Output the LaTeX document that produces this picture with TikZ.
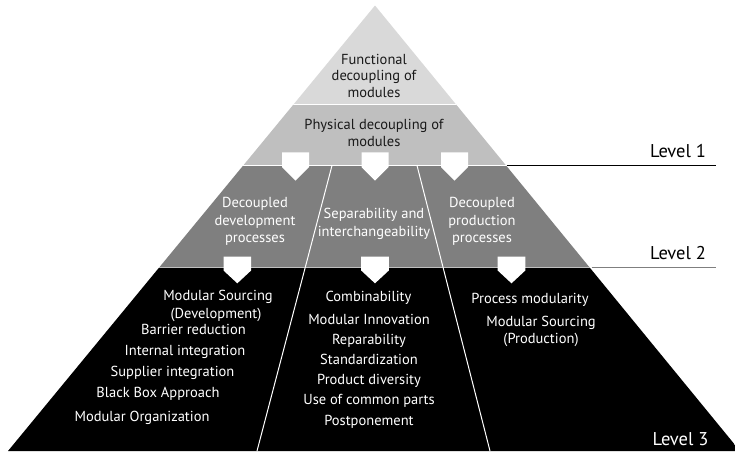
\documentclass[tikz,border=0pt]{standalone}
\usepackage{fontspec}
\setmainfont{PT Sans}
\definecolor{bandA}{HTML}{D9D9D9}
\definecolor{bandB}{HTML}{BFBFBF}
\definecolor{bandC}{HTML}{7F7F7F}
\definecolor{darktxt}{HTML}{1A1A1A}
\begin{document}
\begin{tikzpicture}[x=1pt,y=-1pt,
  txt/.style={anchor=base,inner sep=0pt,font=\fontsize{14.5}{16}\selectfont},
  dtxt/.style={txt,text=darktxt},
  wtxt/.style={txt,text=white},
  lvl/.style={anchor=base,inner sep=0pt,font=\fontsize{18.5}{20}\selectfont,text=black},
  pointer/.style={fill=white,draw=none},
  sep/.style={draw=white,line width=1pt},
  divider/.style={draw=white,line width=1pt}]
\useasboundingbox (0,0) rectangle (735,451);
\coordinate (apex) at (375,5.5);
\coordinate (bl) at (8,451);
\coordinate (br) at (740,451);
\begin{scope}
  \clip (apex) -- (br) -- (bl) -- cycle;
  \fill[bandA] (0,0) rectangle (740,104.5);
  \fill[bandB] (0,104.5) rectangle (740,165.5);
  \fill[bandC] (0,165.5) rectangle (740,267.5);
  \fill[black] (0,267.5) rectangle (740,452);
  \draw[sep] (0,104.5) -- (740,104.5);
  \draw[sep] (0,165.5) -- (740,165.5);
  \draw[sep,draw=bandB] (0,267.5) -- (740,267.5);
  \coordinate (d1a) at (332,165.5);
  \coordinate (d1b) at (257,451);
  \coordinate (d2a) at (417,165.5);
  \coordinate (d2b) at (490,451);
  \draw[divider] (d1a) -- (d1b);
  \draw[divider] (d2a) -- (d2b);
\end{scope}
% level lines
\coordinate (l1a) at (507,165.3);
\coordinate (l1b) at (716,165.3);
\coordinate (l2a) at (591.5,267.7);
\coordinate (l2b) at (716,267.7);
\draw[black,line width=1pt] (l1a) -- (l1b);
\draw[bandC,line width=1pt] (l2a) -- (l2b);
% pointers level 1
\foreach \cx/\nm in {295.5/pa,375/pb,454.5/pc}{
  \fill[pointer] (\cx-13.5,152.3) -- (\cx+13.5,152.3) -- (\cx+13.5,167) -- (\cx,180.7) -- (\cx-13.5,167) -- cycle;
}
% pointers level 2
\foreach \cx/\nm in {237.3/qa,375/qb,511.5/qc}{
  \fill[pointer] (\cx-13.8,256.7) -- (\cx+13.8,256.7) -- (\cx+13.8,270.5) -- (\cx,283.3) -- (\cx-13.8,270.5) -- cycle;
}
% level 1 texts
\node[dtxt] (f1) at (374,64.3) {Functional};
\node[dtxt] (f2) at (374,80.8) {decoupling of};
\node[dtxt] (f3) at (374,97.3) {modules};
\node[dtxt] (p1) at (374,129.3) {Physical decoupling of};
\node[dtxt] (p2) at (374,146) {modules};
% level 2 texts
\node[wtxt] (a1) at (255,207.3) {Decoupled};
\node[wtxt] (a2) at (255,225) {development};
\node[wtxt] (a3) at (255,242.7) {processes};
\node[wtxt] (b1) at (374,218.3) {Separability and};
\node[wtxt] (b2) at (374,236) {interchangeability};
\node[wtxt] (c1) at (482,207.3) {Decoupled};
\node[wtxt] (c2) at (482,225) {production};
\node[wtxt] (c3) at (482,242.7) {processes};
% level 3 left
\node[wtxt] (e1) at (218,300) {Modular Sourcing};
\node[wtxt] (e2) at (216,318) {(Development)};
\node[wtxt] (e3) at (193.5,334) {Barrier reduction};
\node[wtxt] (e4) at (185,355.7) {Internal integration};
\node[wtxt] (e5) at (172.5,376.7) {Supplier integration};
\node[wtxt] (e6) at (158,397.7) {Black Box Approach};
\node[wtxt] (e7) at (142,421) {Modular Organization};
% level 3 middle
\node[wtxt] (m1) at (368.5,301.7) {Combinability};
\node[wtxt] (m2) at (369,324.3) {Modular Innovation};
\node[wtxt] (m3) at (369,344) {Reparability};
\node[wtxt] (m4) at (369,364.3) {Standardization};
\node[wtxt] (m5) at (369,384.3) {Product diversity};
\node[wtxt] (m6) at (369,404.3) {Use of common parts};
\node[wtxt] (m7) at (369,425) {Postponement};
% level 3 right
\node[wtxt] (r1) at (530,303.3) {Process modularity};
\node[wtxt] (r2) at (541,326) {Modular Sourcing};
\node[wtxt] (r3) at (541,343.3) {(Production)};
% level labels
\node[lvl] (L1) at (678,157.7) {Level 1};
\node[lvl] (L2) at (678,259.3) {Level 2};
\node[lvl,text=white] (L3) at (680.5,445) {Level 3};
\end{tikzpicture}
\end{document}
